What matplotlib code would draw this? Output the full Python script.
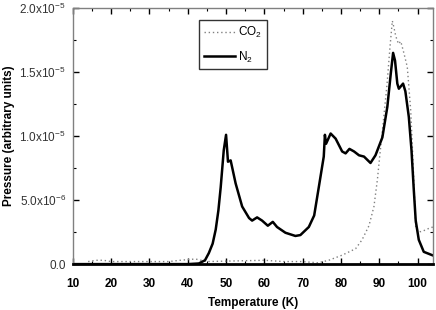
import matplotlib
matplotlib.use("Agg")
import matplotlib.pyplot as plt
from matplotlib.ticker import MultipleLocator, FixedLocator

# ---- data ----
n2_T = [10, 30, 40, 42.9, 44.5, 45.5, 46.5, 47.3, 48.0, 48.6, 49.4, 50.0, 50.5, 51.2,
        52.5, 54.2, 56.0, 56.8, 58.1, 59.4, 60.9, 62.2, 63.3, 65.5, 68.1, 69.4, 71.6,
        73.0, 74.2, 75.5, 75.8, 76.1, 77.3, 78.6, 80.3, 81.2, 82.2, 83.4, 84.7, 86.0,
        87.7, 89.0, 90.8, 92.1, 93.0, 93.6, 94.1, 94.7, 95.1, 96.2, 96.8, 97.7, 98.4,
        99.0, 99.5, 100.3, 101.6, 103.8]
n2_P = [0.0, 0.0, 0.0, 0.005e-5, 0.03e-5, 0.086e-5, 0.16e-5, 0.27e-5, 0.42e-5, 0.60e-5,
        0.89e-5, 1.01e-5, 0.80e-5, 0.81e-5,
        0.63e-5, 0.45e-5, 0.36e-5, 0.34e-5, 0.365e-5, 0.34e-5, 0.30e-5, 0.33e-5, 0.29e-5,
        0.245e-5, 0.22e-5, 0.227e-5, 0.29e-5,
        0.38e-5, 0.60e-5, 0.84e-5, 1.01e-5, 0.94e-5, 1.02e-5, 0.98e-5, 0.88e-5, 0.865e-5,
        0.90e-5, 0.88e-5, 0.85e-5, 0.84e-5,
        0.79e-5, 0.85e-5, 0.99e-5, 1.23e-5, 1.49e-5, 1.65e-5, 1.59e-5, 1.41e-5, 1.37e-5,
        1.41e-5, 1.35e-5, 1.15e-5, 0.89e-5,
        0.58e-5, 0.34e-5, 0.19e-5, 0.096e-5, 0.07e-5]

co2_T = [14, 16, 18, 20, 35, 38, 42, 45, 60, 65, 70, 74, 76.8, 80.3, 83.8, 85.5, 87.3,
         88.6, 89.5, 90.1, 91.0, 92.0, 92.8, 93.4, 93.8, 94.3, 95.0, 95.6, 96.4, 97.3,
         97.7, 98.2, 98.8, 99.5, 100.3, 101.5, 103.0, 104.0]
co2_P = [0.02e-5, 0.03e-5, 0.03e-5, 0.02e-5, 0.02e-5, 0.03e-5, 0.04e-5, 0.02e-5,
         0.03e-5, 0.02e-5, 0.02e-5, 0.01e-5, 0.03e-5, 0.07e-5, 0.12e-5, 0.19e-5, 0.30e-5,
         0.45e-5, 0.66e-5, 0.84e-5, 1.10e-5, 1.40e-5, 1.70e-5, 1.90e-5, 1.85e-5,
         1.78e-5, 1.72e-5, 1.74e-5, 1.65e-5, 1.54e-5,
         1.39e-5, 1.20e-5, 0.80e-5, 0.29e-5, 0.25e-5, 0.26e-5, 0.28e-5, 0.29e-5]

xticks = [10, 20, 30, 40, 50, 60, 70, 80, 90, 100]
yticks = [0.0, 0.5e-5, 1.0e-5, 1.5e-5, 2.0e-5]
ytick_labels = ["0.0", r"5.0x10$^{-6}$", r"1.0x10$^{-5}$", r"1.5x10$^{-5}$", r"2.0x10$^{-5}$"]

plt.rcParams['font.family'] = ['Liberation Sans', 'DejaVu Sans']
plt.rcParams['mathtext.fontset'] = 'custom'
plt.rcParams['mathtext.rm'] = 'Liberation Sans'

fig = plt.figure(figsize=(4.36, 3.10), dpi=100)
ax = fig.add_axes([0.167, 0.148, 0.826, 0.826])

ax.plot(co2_T, co2_P, linestyle=(0, (1, 2)), color='#808080', lw=1.0, label=r'CO$_2$')
ax.plot(n2_T, n2_P, color='black', lw=1.8, label=r'N$_2$')

ax.set_xlim(10, 104)
ax.set_ylim(0, 2.0e-5)
ax.xaxis.set_major_locator(FixedLocator(xticks))
ax.xaxis.set_minor_locator(MultipleLocator(5))
ax.yaxis.set_major_locator(FixedLocator(yticks))
ax.yaxis.set_minor_locator(MultipleLocator(0.25e-5))
ax.set_yticklabels(ytick_labels, fontsize=8.5, color='#333333')
ax.set_xticklabels([str(t) for t in xticks], fontsize=8.5, fontweight='bold')

ax.tick_params(which='both', direction='in', top=True, right=True)
ax.tick_params(which='major', length=4, width=1)
ax.tick_params(axis='y', which='major', pad=5)
ax.tick_params(axis='x', which='major', pad=10)
ax.tick_params(which='minor', length=2, width=0.8)

for s in ['left', 'top', 'right']:
    ax.spines[s].set_color('#808080')
    ax.spines[s].set_linewidth(1.0)
ax.spines['bottom'].set_color('black')
ax.spines['bottom'].set_linewidth(2.0)

ax.set_xlabel('Temperature (K)', fontsize=8.5, fontweight='bold', labelpad=5)
ax.set_ylabel('Pressure (arbitrary units)', fontsize=8.5, fontweight='bold', labelpad=3)

leg = ax.legend(loc='upper left', bbox_to_anchor=(0.335, 0.975), fontsize=8.5,
                frameon=True, fancybox=False, edgecolor='black', handlelength=2.6,
                handletextpad=0.3, borderpad=0.4, labelspacing=0.8)
leg.get_frame().set_linewidth(1.0)

fig.savefig('out.png', dpi=100)
